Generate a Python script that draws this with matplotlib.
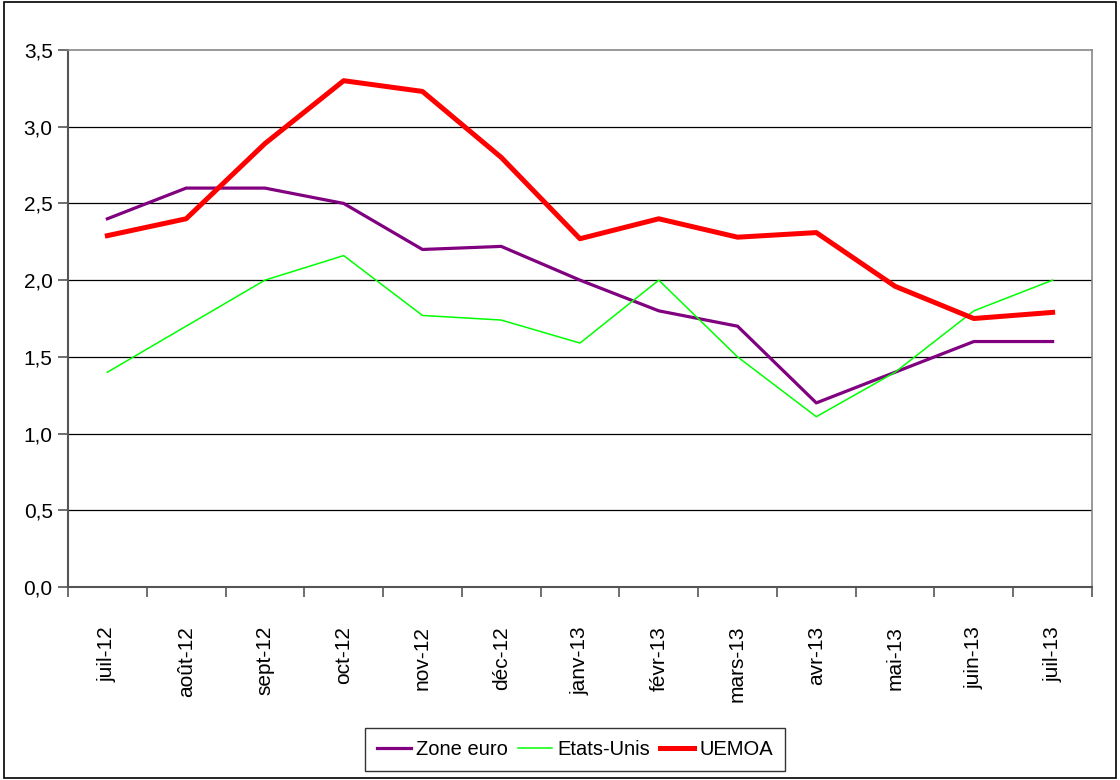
import numpy as np
import matplotlib.pyplot as plt
from matplotlib.patches import Rectangle

months = ['juil-12', 'août-12', 'sept-12', 'oct-12', 'nov-12', 'déc-12', 'janv-13',
          'févr-13', 'mars-13', 'avr-13', 'mai-13', 'juin-13', 'juil-13']
zone_euro = [2.4, 2.6, 2.6, 2.5, 2.2, 2.22, 2.0, 1.8, 1.7, 1.2, 1.4, 1.6, 1.6]
etats_unis = [1.4, 1.7, 2.0, 2.16, 1.77, 1.74, 1.59, 2.0, 1.5, 1.11, 1.4, 1.8, 2.0]
uemoa = [2.29, 2.4, 2.89, 3.3, 3.23, 2.8, 2.27, 2.4, 2.28, 2.31, 1.96, 1.75, 1.79]
yticks = [0.0, 0.5, 1.0, 1.5, 2.0, 2.5, 3.0, 3.5]

plt.rcParams['font.family'] = ['Liberation Sans', 'DejaVu Sans']

fig = plt.figure(figsize=(11.2, 7.8), dpi=100)
fig.patch.set_facecolor('white')
ax = fig.add_axes([0.0607, 0.2474, 0.9143, 0.6885])

x = np.arange(len(months))
ax.plot(x, zone_euro, color='#800080', lw=2.3, label='Zone euro')
ax.plot(x, etats_unis, color='#00ff00', lw=1.1, label='Etats-Unis')
ax.plot(x, uemoa, color='#ff0000', lw=3.6, label='UEMOA')

ax.set_xlim(-0.5, len(months) - 0.5)
ax.set_ylim(0, 3.5)
ax.set_yticks(yticks)
ax.set_yticklabels([f'{v:.1f}'.replace('.', ',') for v in yticks], fontsize=15)
for v in yticks[1:-1]:
    ax.axhline(v, color='black', lw=0.9, zorder=0)

ax.set_xticks(x)
ax.set_xticklabels(months, rotation=90, fontsize=15)
ax.set_xticks(np.arange(-0.5, len(months)), minor=True)
ax.tick_params(axis='x', which='major', length=0, pad=28)
ax.tick_params(axis='x', which='minor', length=7, color='#555555', width=1.2)
ax.tick_params(axis='y', length=7, color='#555555', width=1.2, pad=4)

for side in ['left', 'bottom']:
    ax.spines[side].set_color('#555555')
    ax.spines[side].set_linewidth(1.5)
for side in ['top', 'right']:
    ax.spines[side].set_color('#888888')
    ax.spines[side].set_linewidth(1.2)

leg = ax.legend(loc='upper center', bbox_to_anchor=(0.495, -0.262), ncol=3, fontsize=14.5,
                frameon=True, fancybox=False, edgecolor='black', handlelength=1.7,
                handletextpad=0.25, columnspacing=0.5, borderpad=0.6, borderaxespad=0)
leg.get_frame().set_linewidth(1.0)

fig.patches.append(Rectangle((0.004, 0.002), 0.992, 0.996, transform=fig.transFigure,
                             fill=False, edgecolor='black', lw=1.2))

fig.savefig('out.png', dpi=100)
